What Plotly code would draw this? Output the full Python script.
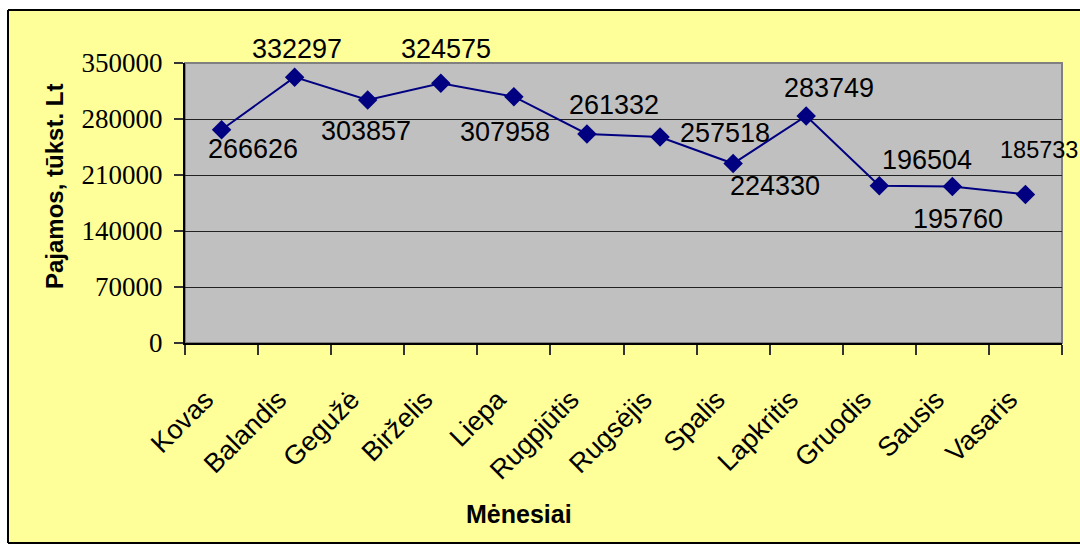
import plotly.graph_objects as go

# ---- data ----
months = ["Kovas", "Balandis", "Gegužė", "Birželis", "Liepa", "Rugpjūtis",
          "Rugsėjis", "Spalis", "Lapkritis", "Gruodis", "Sausis", "Vasaris"]
income = [266626, 332297, 303857, 324575, 307958, 261332,
          257518, 224330, 283749, 196504, 195760, 185733]
y_ticks = [0, 70000, 140000, 210000, 280000, 350000]
y_title = "Pajamos, tūkst. Lt"
x_title = "Mėnesiai"

# ---- layout constants (pixels) ----
W, H = 1080, 544
L, R, T, B = 185, 1062, 63, 343  # plot area box


def px(x):
    return (x - L) / (R - L)


def py(y):
    return (B - y) / (B - T)


# label offsets (dx right, dy up) in pixels, and font sizes
label_shift = [(31, -19), (2, 28), (-2, -31), (5, 34), (-9, -35), (27, 29),
               (65, 4), (42, -22), (23, 28), (48, 26), (6, -33), (14, 44)]
label_size = [27] * 11 + [23.5]

ARIAL = "Arial, Liberation Sans, sans-serif"
TIMES = "Times New Roman, Liberation Serif, serif"
NAVY = "#000080"

fig = go.Figure()
fig.add_trace(go.Scatter(
    x=months, y=income, mode="lines+markers",
    line=dict(color=NAVY, width=2),
    marker=dict(symbol="diamond", size=15, color=NAVY),
    showlegend=False, hoverinfo="x+y",
))

annotations = []
for m, v, (dx, dy), s in zip(months, income, label_shift, label_size):
    annotations.append(dict(
        x=m, y=v, xref="x", yref="y", text=str(v), showarrow=False,
        xshift=dx, yshift=dy, xanchor="center", yanchor="middle",
        font=dict(family=ARIAL, size=s, color="black"),
    ))

annotations.append(dict(
    x=px(519), y=py(514), xref="paper", yref="paper", text=f"<b>{x_title}</b>",
    showarrow=False, xanchor="center", yanchor="middle",
    font=dict(family=ARIAL, size=25, color="black"),
))
annotations.append(dict(
    x=px(54.5), y=py(186.5), xref="paper", yref="paper", text=f"<b>{y_title}</b>",
    showarrow=False, xanchor="center", yanchor="middle", textangle=-90,
    font=dict(family=ARIAL, size=24, color="black"),
))

shapes = [
    # white margins outside the chart frame
    dict(type="rect", xref="paper", yref="paper", x0=px(-5), x1=px(8), y0=py(W), y1=py(-5),
         fillcolor="white", line=dict(width=0), layer="above"),
    dict(type="rect", xref="paper", yref="paper", x0=px(-5), x1=px(W + 5), y0=py(10), y1=py(-5),
         fillcolor="white", line=dict(width=0), layer="above"),
    dict(type="rect", xref="paper", yref="paper", x0=px(-5), x1=px(W + 5), y0=py(H + 5), y1=py(543),
         fillcolor="white", line=dict(width=0), layer="above"),
    # black frame lines
    dict(type="line", xref="paper", yref="paper", x0=px(8), x1=px(8), y0=py(10), y1=py(543),
         line=dict(color="black", width=2), layer="above"),
    dict(type="line", xref="paper", yref="paper", x0=px(8), x1=px(W + 5), y0=py(10), y1=py(10),
         line=dict(color="black", width=2), layer="above"),
    dict(type="line", xref="paper", yref="paper", x0=px(8), x1=px(W + 5), y0=py(543), y1=py(543),
         line=dict(color="black", width=2), layer="above"),
    # plot area border
    dict(type="rect", xref="x domain", yref="y domain", x0=0, x1=1, y0=0, y1=1,
         line=dict(color="#808080", width=2), layer="below"),
]

fig.update_layout(
    width=W, height=H,
    margin=dict(l=L, r=W - R, t=T, b=H - B, pad=0),
    paper_bgcolor="#FFFF99", plot_bgcolor="#C0C0C0",
    annotations=annotations, shapes=shapes,
    xaxis=dict(
        type="category", tickson="boundaries", ticks="outside", ticklen=10,
        tickcolor="#333333", tickwidth=1.5,
        showline=True, linecolor="black", linewidth=2,
        showgrid=False, tickangle=-45, ticklabelstandoff=28, ticklabelshift=-16,
        tickfont=dict(family=ARIAL, size=27, color="black"),
        range=[-0.5, len(months) - 0.5], fixedrange=True,
    ),
    yaxis=dict(
        range=[0, 350000], tickvals=y_ticks, ticktext=[str(t) for t in y_ticks],
        ticks="outside", ticklen=9, tickcolor="#333333", tickwidth=1.5,
        showline=True, linecolor="black", linewidth=2,
        showgrid=True, gridcolor="#222222", gridwidth=1, zeroline=False,
        tickfont=dict(family=TIMES, size=27, color="black"),
        ticklabelstandoff=6, fixedrange=True,
    ),
)

fig.write_html("out.html",
               config={"displayModeBar": False},
               post_script="document.body.style.margin='0px';document.body.style.overflow='hidden';")
